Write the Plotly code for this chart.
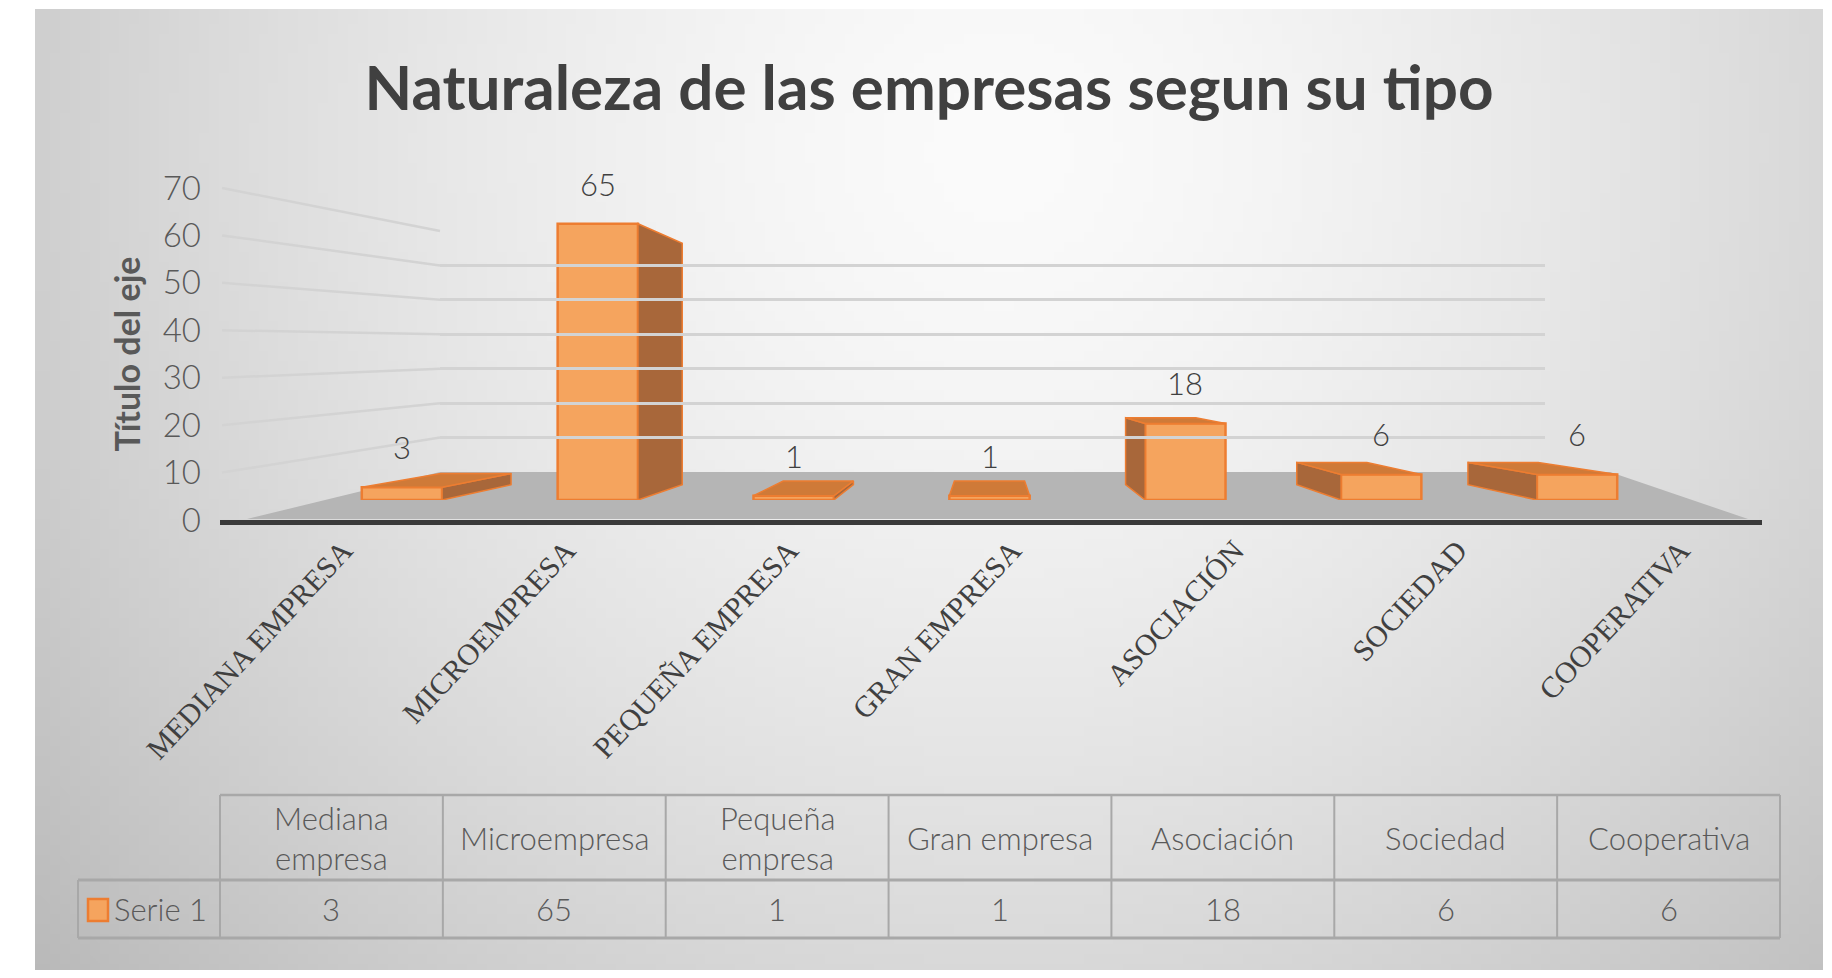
import base64
import struct
import zlib

import plotly.graph_objects as go

# ---------------- data ----------------
categories = ["Mediana empresa", "Microempresa", "Pequeña empresa", "Gran empresa",
              "Asociación", "Sociedad", "Cooperativa"]
table_headers = ["Mediana<br>empresa", "Microempresa", "Pequeña<br>empresa", "Gran empresa",
                 "Asociación", "Sociedad", "Cooperativa"]
values = [3, 65, 1, 1, 18, 6, 6]
series_name = "Serie 1"
y_ticks = [0, 10, 20, 30, 40, 50, 60, 70]
title_text = "Naturaleza de las empresas segun su tipo"
y_title = "Título del eje"

# ---------------- geometry helpers (screen pixel -> paper) ----------------
OFF = 8              # default body margin of the html page
W, H = 1816, 962     # figure size that fits the 1832x978 window


def px(x):
    return (x - OFF) / W


def py(y):
    return 1 - (y - OFF) / H


FONT = "Lato"
TXT = "#404040"
GRAY_TXT = "#595959"
ORANGE = "#ed7d31"
FRONT = "#f5a45e"
SIDE = "#a8673a"
TOP = "#cf7a38"


# ---------------- background radial gradient image ----------------
def gradient_uri():
    iw, ih = 180, 98
    x0, y0, x1, y1 = 35, 9, 1823, 978
    rows = b""
    for j in range(ih):
        row = bytearray([0])
        Y = y0 + (j + 0.5) * (y1 - y0) / ih
        for i in range(iw):
            X = x0 + (i + 0.5) * (x1 - x0) / iw
            d = (((X - 1000) / 1000) ** 2 + ((Y - 150) / 1000) ** 2) ** 0.5
            v = 251 - 46 * d ** 1.5
            row.append(max(0, min(255, int(v))))
        rows += bytes(row)

    def chunk(tag, data):
        return struct.pack(">I", len(data)) + tag + data + struct.pack(">I", zlib.crc32(tag + data) & 0xffffffff)

    png = b"\x89PNG\r\n\x1a\n" + chunk(b"IHDR", struct.pack(">IIBBBBB", iw, ih, 8, 0, 0, 0, 0)) \
        + chunk(b"IDAT", zlib.compress(rows, 9)) + chunk(b"IEND", b"")
    return "data:image/png;base64," + base64.b64encode(png).decode()


fig = go.Figure()

# ---------------- 3D-ish bars ----------------
n = len(categories)
idx = list(range(n))
half = 0.205
cx, cy, s = 3.0, 28.6, 0.874  # perspective vanishing point (data units) and depth shrink


def back(p):
    return (cx + s * (p[0] - cx), cy + s * (p[1] - cy))


fig.add_trace(go.Bar(
    x=idx, y=values, width=2 * half, xaxis="x", yaxis="y",
    marker=dict(color=FRONT, line=dict(color=ORANGE, width=2.5)),
    hoverinfo="skip", showlegend=False,
))

for i, v in zip(idx, values):
    faces = []
    if i < cx:
        a, b = (i + half, 0), (i + half, v)
        faces.append(([a, b, back(b), back(a)], SIDE))
    elif i > cx:
        a, b = (i - half, 0), (i - half, v)
        faces.append(([a, b, back(b), back(a)], SIDE))
    if v < cy:
        a, b = (i - half, v), (i + half, v)
        faces.append(([a, b, back(b), back(a)], TOP))
    for poly, col in faces:
        fig.add_trace(go.Scatter(
            x=[p[0] for p in poly] + [poly[0][0]], y=[p[1] for p in poly] + [poly[0][1]],
            xaxis="x", yaxis="y", mode="lines", fill="toself", fillcolor=col,
            line=dict(color=ORANGE, width=1.5), hoverinfo="skip", showlegend=False,
        ))

# invisible anchor traces for helper axes
fig.add_trace(go.Scatter(x=[None], y=[None], xaxis="x2", yaxis="y2", showlegend=False, hoverinfo="skip"))
fig.add_trace(go.Scatter(x=[None], y=[None], xaxis="x3", yaxis="y3", showlegend=False, hoverinfo="skip"))
fig.add_trace(go.Scatter(x=[None], y=[None], xaxis="x4", yaxis="y3", showlegend=False, hoverinfo="skip"))

# ---------------- data labels ----------------
annotations = []
for i, v in zip(idx, values):
    annotations.append(dict(x=i, y=v, xref="x", yref="y", text=str(v), showarrow=False,
                            xanchor="center", yanchor="middle", yshift=40,
                            font=dict(family=FONT, size=31, color=TXT, weight=300)))

# ---------------- floor + slanted gridlines ----------------
shapes = []
floor = [(247, 519), (440, 472), (1610, 472), (1748, 519)]
path = "M " + " L ".join(f"{px(x)},{py(y)}" for x, y in floor) + " Z"
shapes.append(dict(type="path", path=path, xref="paper", yref="paper", fillcolor="#b5b5b5",
                   line=dict(width=0), layer="below"))
for t in y_ticks[1:]:
    yl = 520 - t * (332 / 70)
    yb = 472 - t * (241 / 70)
    shapes.append(dict(type="line", xref="paper", yref="paper", x0=px(222), y0=py(yl), x1=px(440), y1=py(yb),
                       line=dict(color="#d3d3d3", width=2.5), layer="below"))

# ---------------- data table ----------------
tx0, tcol = 220, (1780 - 220) / n
ty0, ty1, ty2 = 795, 880, 938
lc = "#a8a8a8"
shapes.append(dict(type="line", xref="paper", yref="paper", x0=px(tx0), x1=px(1780), y0=py(ty0), y1=py(ty0),
                   line=dict(color=lc, width=2.5)))
for yy in (ty1, ty2):
    shapes.append(dict(type="line", xref="paper", yref="paper", x0=px(78), x1=px(1780), y0=py(yy), y1=py(yy),
                       line=dict(color=lc, width=3)))
for k in range(n + 1):
    xx = tx0 + k * tcol
    shapes.append(dict(type="line", xref="paper", yref="paper", x0=px(xx), x1=px(xx), y0=py(ty0), y1=py(ty2),
                       line=dict(color=lc, width=2)))
shapes.append(dict(type="line", xref="paper", yref="paper", x0=px(78), x1=px(78), y0=py(ty1), y1=py(ty2),
                   line=dict(color=lc, width=2)))
for k, (hdr, v) in enumerate(zip(table_headers, values)):
    xc = tx0 + (k + 0.5) * tcol
    annotations.append(dict(x=px(xc), y=py((ty0 + ty1) / 2), xref="paper", yref="paper", text=hdr,
                            showarrow=False, align="center", xanchor="center", yanchor="middle",
                            font=dict(family=FONT, size=31, color=GRAY_TXT, weight=300)))
    annotations.append(dict(x=px(xc), y=py((ty1 + ty2) / 2), xref="paper", yref="paper", text=str(v),
                            showarrow=False, xanchor="center", yanchor="middle",
                            font=dict(family=FONT, size=31, color=GRAY_TXT, weight=300)))
# legend key + series name
shapes.append(dict(type="rect", xref="paper", yref="paper", x0=px(88), x1=px(108), y0=py(899), y1=py(921),
                   fillcolor=FRONT, line=dict(color=ORANGE, width=2.5)))
annotations.append(dict(x=px(112), y=py((ty1 + ty2) / 2), xref="paper", yref="paper", text=series_name,
                        xanchor="left", yanchor="middle", showarrow=False,
                        font=dict(family=FONT, size=31, color=GRAY_TXT, weight=300)))

fig.update_layout(
    template="none",
    width=W, height=H, autosize=False,
    margin=dict(l=0, r=0, t=0, b=0, pad=0, autoexpand=False),
    paper_bgcolor="white", plot_bgcolor="rgba(0,0,0,0)",
    title=dict(text=title_text, x=px(929), xanchor="center", y=py(88), yanchor="middle",
               font=dict(family=FONT, size=62, color=TXT, weight="bold")),
    images=[dict(source=gradient_uri(), xref="paper", yref="paper", x=px(35), y=py(9),
                 sizex=px(1823) - px(35), sizey=py(9) - py(978), sizing="stretch",
                 xanchor="left", yanchor="top", layer="below")],
    # bars (front plane)
    xaxis=dict(domain=[px(304), px(1675)], range=[-0.5, n - 0.5], visible=False, anchor="y",
               automargin=False),
    yaxis=dict(domain=[py(500), py(500 - 70 * 4.25)], range=[0, 70], visible=False, anchor="x",
               automargin=False),
    # back wall grid
    xaxis2=dict(domain=[px(440), px(1545)], range=[0, 1], anchor="y2", showgrid=False, automargin=False,
                showticklabels=False, zeroline=False, showline=False, ticks=""),
    yaxis2=dict(domain=[py(472), py(231)], range=[0, 70], anchor="x2", tickmode="array", automargin=False,
                tickvals=y_ticks[1:], showgrid=True, gridcolor="#d3d3d3", gridwidth=2.5, ticks="",
                showticklabels=False, zeroline=False, showline=False),
    # front value axis with labels
    xaxis3=dict(domain=[px(220), px(1762)], range=[0, 1], anchor="y3", showgrid=False, automargin=False,
                showticklabels=False, zeroline=False, showline=True, linecolor="#3a3a3a", linewidth=5,
                ticks=""),
    yaxis3=dict(domain=[py(520), py(188)], range=[0, 70], anchor="free", position=px(201),
                automargin=False, ticks="",
                tickmode="array", tickvals=y_ticks, showgrid=False, zeroline=False, showline=False,
                tickfont=dict(family=FONT, size=33, color=GRAY_TXT, weight=300),
                title=dict(text=y_title, standoff=10,
                           font=dict(family=FONT, size=34, color=GRAY_TXT, weight="bold"))),
    # category labels
    xaxis4=dict(domain=[px(232), px(1792)], range=[-0.5, n - 0.5], anchor="y3", automargin=False,
                tickmode="array", tickvals=idx, ticktext=[c.upper() for c in categories],
                tickangle=-47, showgrid=False, zeroline=False, showline=False, ticks="",
                ticklabelstandoff=6,
                tickfont=dict(family="Liberation Serif", size=30, color=TXT)),
    shapes=shapes,
    annotations=annotations,
    showlegend=False,
)

fig.write_html("out.html")
